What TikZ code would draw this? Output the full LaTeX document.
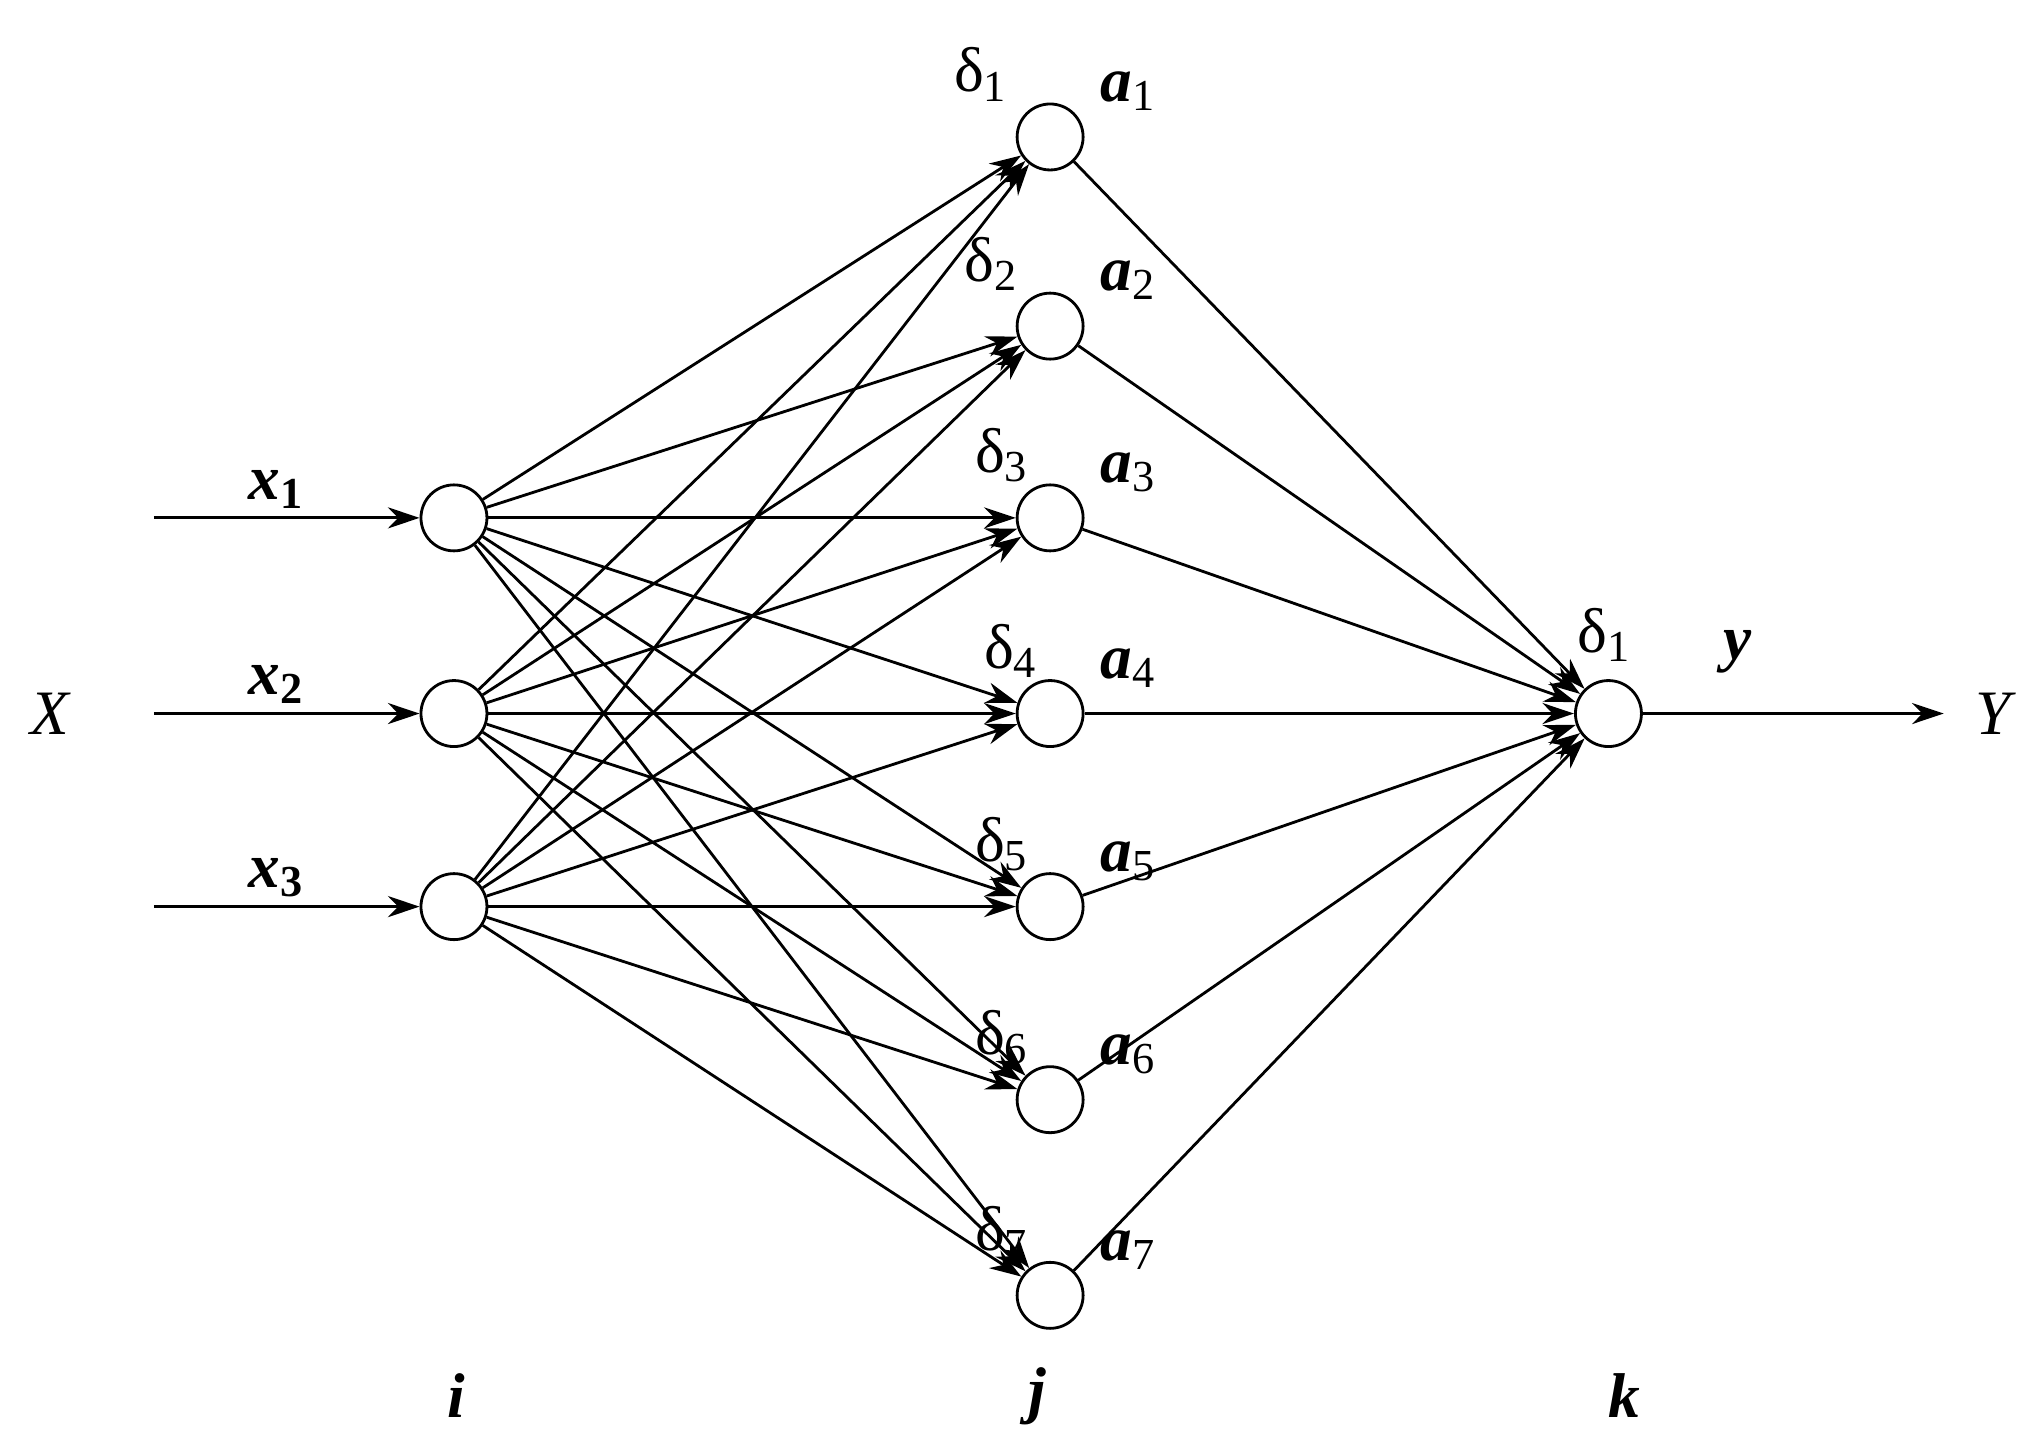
\documentclass[tikz,border=0pt]{standalone}
\usepackage{fontspec}
\setmainfont{Liberation Serif}
\usetikzlibrary{arrows.meta}
\begin{document}
\begin{tikzpicture}[x=0.01305cm,y=-0.01305cm,
  neuron/.style={circle,draw,line width=0.8pt,minimum size=0.66cm,inner sep=0pt},
  conn/.style={line width=0.8pt,-{Stealth[length=9pt,width=6pt]}},
  lbl/.style={font=\fontsize{18}{20}\selectfont,inner sep=0pt}]
\useasboundingbox (0,0) rectangle (1560,1115);
\foreach \n/\y in {1/397,2/547,3/695} \node[neuron] (i\n) at (348,\y) {};
\foreach \n/\y in {1/105,2/250,3/397,4/547,5/695,6/843,7/993} \node[neuron] (h\n) at (805,\y) {};
\node[neuron] (o) at (1233,547) {};
\foreach \n/\y in {1/397,2/547,3/695}{
  \coordinate (s\n) at (118,\y);
  \draw[conn] (s\n) -- (i\n);
  \node[lbl] at (212,\y-22) {{\bfseries\itshape x}\textsubscript{\bfseries\n}};
}
\foreach \a in {1,2,3} \foreach \b in {1,...,7} \draw[conn] (i\a) -- (h\b);
\foreach \b in {1,...,7} \draw[conn] (h\b) -- (o);
\coordinate (e) at (1490,547);
\draw[conn] (o) -- (e);
\foreach \n/\y/\dx in {1/105/752,2/250/760,3/397/768,4/547/775,5/695/768,6/843/768,7/993/768}{
  \node[lbl] at (\dx,\y-48) {δ\textsubscript{\n}};
  \node[lbl] at (865,\y-35) {{\bfseries\itshape a}\textsubscript{\n}};
}
\node[lbl] at (1230,487) {δ\textsubscript{1}};
\node[lbl] at (1332,500) {\bfseries\itshape y};
\node[lbl] at (38,547) {\itshape X};
\node[lbl] at (1528,547) {\itshape Y};
\node[lbl] at (350,1070) {\bfseries\itshape i};
\node[lbl] at (795,1070) {\bfseries\itshape j};
\node[lbl] at (1245,1070) {\bfseries\itshape k};
\end{tikzpicture}
\end{document}
